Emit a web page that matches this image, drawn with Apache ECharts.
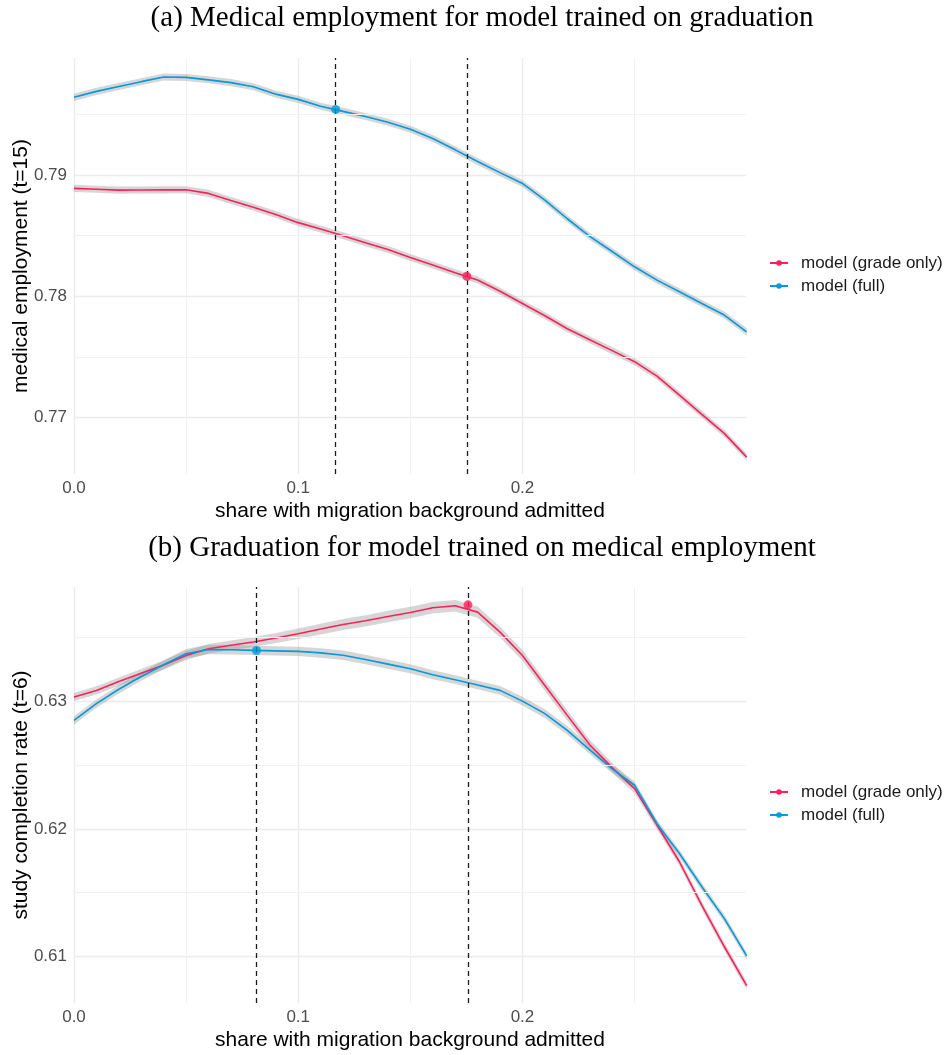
<!DOCTYPE html>
<html>
<head>
<meta charset="utf-8">
<script src="https://cdn.jsdelivr.net/npm/echarts@6/dist/echarts.min.js"></script>
<style>
  html, body { margin: 0; padding: 0; background: #ffffff; }
  #chart { width: 949px; height: 1055px; }
</style>
</head>
<body>
<div id="chart"></div>
<script>
// share with migration background admitted (x values of every curve)
const shares = [0.00, 0.01, 0.02, 0.03, 0.04, 0.05, 0.06, 0.07, 0.08, 0.09,
                0.10, 0.11, 0.12, 0.13, 0.14, 0.15, 0.16, 0.17, 0.18, 0.19,
                0.20, 0.21, 0.22, 0.23, 0.24, 0.25, 0.26, 0.27, 0.28, 0.29, 0.30];

// (a) medical employment (t=15)
const empGradeOnly = [0.78890, 0.78883, 0.78876, 0.78877, 0.78878, 0.78879, 0.78849, 0.78790, 0.78735, 0.78675,
                      0.78608, 0.78555, 0.78499, 0.78443, 0.78387, 0.78320, 0.78258, 0.78195, 0.78135, 0.78042,
                      0.77942, 0.77840, 0.77733, 0.77643, 0.77553, 0.77462, 0.77343, 0.77186, 0.77028, 0.76871, 0.76675];
const empFull      = [0.79641, 0.79690, 0.79730, 0.79770, 0.79808, 0.79805, 0.79785, 0.79762, 0.79728, 0.79667,
                      0.79624, 0.79567, 0.79525, 0.79483, 0.79435, 0.79377, 0.79302, 0.79208, 0.79112, 0.79020,
                      0.78931, 0.78794, 0.78640, 0.78495, 0.78370, 0.78244, 0.78134, 0.78038, 0.77942, 0.77846, 0.77708];
const empGradeOnlySe = [0.00030, 0.00029, 0.00029, 0.00029, 0.00029, 0.00029, 0.00029, 0.00029, 0.00029, 0.00029,
                        0.00029, 0.00029, 0.00029, 0.00029, 0.00029, 0.00029, 0.00029, 0.00029, 0.00029, 0.00029,
                        0.00029, 0.00029, 0.00029, 0.00029, 0.00029, 0.00029, 0.00029, 0.00029, 0.00029, 0.00029, 0.00030];
const empFullSe      = [0.00030, 0.00029, 0.00029, 0.00029, 0.00029, 0.00029, 0.00029, 0.00029, 0.00029, 0.00029,
                        0.00029, 0.00029, 0.00029, 0.00029, 0.00029, 0.00029, 0.00029, 0.00029, 0.00029, 0.00029,
                        0.00029, 0.00029, 0.00029, 0.00029, 0.00029, 0.00029, 0.00029, 0.00029, 0.00029, 0.00029, 0.00030];
const empOptFull      = [0.1167, 0.79541];   // [share, value]
const empOptGradeOnly = [0.1752, 0.78165];

// (b) study completion rate (t=6)
const gradGradeOnly = [0.63034, 0.63086, 0.63155, 0.63220, 0.63285, 0.63360, 0.63413, 0.63440, 0.63465, 0.63497,
                       0.63530, 0.63567, 0.63603, 0.63632, 0.63665, 0.63697, 0.63734, 0.63750, 0.63700, 0.63543,
                       0.63360, 0.63125, 0.62890, 0.62660, 0.62480, 0.62316, 0.62030, 0.61742, 0.61400, 0.61077, 0.60770];
const gradFull      = [0.62851, 0.62982, 0.63095, 0.63195, 0.63287, 0.63374, 0.63407, 0.63405, 0.63400, 0.63396,
                       0.63392, 0.63380, 0.63362, 0.63328, 0.63292, 0.63256, 0.63209, 0.63170, 0.63128, 0.63086,
                       0.63002, 0.62904, 0.62773, 0.62620, 0.62470, 0.62342, 0.62040, 0.61807, 0.61546, 0.61298, 0.61003];
const gradGradeOnlySe = [0.00032, 0.00032, 0.00033, 0.00034, 0.00035, 0.00036, 0.00037, 0.00038, 0.00039, 0.00040,
                         0.00041, 0.00042, 0.00043, 0.00044, 0.00045, 0.00045, 0.00045, 0.00045, 0.00044, 0.00043,
                         0.00042, 0.00041, 0.00040, 0.00039, 0.00038, 0.00036, 0.00033, 0.00032, 0.00032, 0.00032, 0.00032];
const gradFullSe      = [0.00032, 0.00032, 0.00033, 0.00034, 0.00035, 0.00036, 0.00037, 0.00037, 0.00037, 0.00037,
                         0.00037, 0.00037, 0.00037, 0.00037, 0.00036, 0.00036, 0.00035, 0.00034, 0.00034, 0.00034,
                         0.00034, 0.00034, 0.00034, 0.00033, 0.00032, 0.00031, 0.00030, 0.00030, 0.00030, 0.00030, 0.00030];
const gradOptFull      = [0.0814, 0.63399];
const gradOptGradeOnly = [0.1757, 0.63757];

// axis ranges and minor grid positions
const xRange = [0, 0.2997];
const empRange = [0.76536, 0.79965];
const gradRange = [0.60634, 0.63897];
const empMinorTicks = [0.775, 0.785, 0.795];
const gradMinorTicks = [0.615, 0.625, 0.635];

const labels = ['model (grade only)', 'model (full)'];
const titles = ['(a) Medical employment for model trained on graduation',
                '(b) Graduation for model trained on medical employment'];
const yNames = ['medical employment (t=15)', 'study completion rate (t=6)'];
const xName = 'share with migration background admitted';

const RED = '#FF1F5B';
const BLUE = '#009ADE';
const BAND = 'rgba(153,153,153,0.4)';
const SANS = '"Liberation Sans", Arial, sans-serif';
const SERIF = '"Liberation Serif", "DejaVu Serif", serif';

function pairs(xs, ys) { return xs.map((x, i) => [x, ys[i]]); }

// confidence ribbon: polygon through value +/- se, drawn in data coordinates
function ribbon(g, vals, se) {
  return {
    type: 'custom', xAxisIndex: g, yAxisIndex: g, silent: true, z: 2,
    data: [[shares[0], vals[0]]],
    renderItem: function (params, api) {
      const upper = shares.map((x, i) => api.coord([x, vals[i] + se[i]]));
      const lower = shares.map((x, i) => api.coord([x, vals[i] - se[i]])).reverse();
      return {
        type: 'polygon',
        shape: { points: upper.concat(lower) },
        style: { fill: BAND, stroke: null }
      };
    }
  };
}

// thin minor gridlines carried by an invisible series beneath everything
function minorGridCarrier(g, ticks) {
  return {
    type: 'line', xAxisIndex: g, yAxisIndex: g, silent: true, z: 0,
    data: [[shares[0], ticks[0]]],
    symbol: 'none', lineStyle: { opacity: 0 },
    markLine: {
      silent: true, symbol: 'none', label: { show: false }, precision: 6,
      lineStyle: { color: '#f1f1f1', type: 'solid', width: 1 },
      data: ticks.map(v => ({ yAxis: v }))
    }
  };
}

function curve(g, name, vals, color) {
  return {
    type: 'line', name: name, xAxisIndex: g, yAxisIndex: g,
    data: pairs(shares, vals),
    symbol: 'circle', symbolSize: 7, showSymbol: false,
    itemStyle: { color: color },
    lineStyle: { color: color, width: 1.6 },
    z: 4
  };
}

function optimum(g, pt, color) {
  return {
    type: 'scatter', name: 'optimum-' + g + color, xAxisIndex: g, yAxisIndex: g,
    data: [pt], symbol: 'circle', symbolSize: 9,
    itemStyle: { color: color }, z: 6, silent: true,
    markLine: {
      silent: true, symbol: 'none', label: { show: false }, precision: 6,
      lineStyle: { color: '#1a1a1a', type: [5, 4], width: 1.3 },
      data: [{ xAxis: pt[0] }]
    }
  };
}

function xAxisOpt(g) {
  return {
    type: 'value', gridIndex: g, min: xRange[0], max: xRange[1], interval: 0.1,
    name: xName, nameLocation: 'middle', nameGap: 27, nameMoveOverlap: false,
    nameTextStyle: { color: '#000', fontSize: 21, fontFamily: SANS },
    axisLine: { show: false }, axisTick: { show: false },
    axisLabel: { color: '#4d4d4d', fontSize: 17, fontFamily: SANS, margin: 6,
                 showMaxLabel: false, formatter: v => v.toFixed(1) },
    splitLine: { show: true, showMaxLine: false, lineStyle: { color: '#ebebeb', width: 1.4 } },
    minorTick: { show: false, splitNumber: 2 },
    minorSplitLine: { show: true, lineStyle: { color: '#f1f1f1', width: 1 } }
  };
}

function yAxisOpt(g, range, name) {
  return {
    type: 'value', gridIndex: g, min: range[0], max: range[1], splitNumber: 3,
    name: name, nameLocation: 'middle', nameGap: 42, nameMoveOverlap: false,
    nameTextStyle: { color: '#000', fontSize: 21, fontFamily: SANS },
    axisLine: { show: false }, axisTick: { show: false },
    axisLabel: { color: '#4d4d4d', fontSize: 17, fontFamily: SANS, margin: 7,
                 showMinLabel: false, showMaxLabel: false,
                 formatter: v => v.toFixed(2) },
    splitLine: { show: true, showMinLine: false, showMaxLine: false,
                 lineStyle: { color: '#ebebeb', width: 1.4 } }
  };
}

function legendOpt(top) {
  return {
    orient: 'vertical', left: 764, top: top, data: labels,
    itemWidth: 18, itemHeight: 7, itemGap: 5,
    textStyle: { color: '#1a1a1a', fontSize: 17, fontFamily: SANS, lineHeight: 18, padding: [0, 0, 0, 8] },
    selectedMode: false
  };
}

const chart = echarts.init(document.getElementById('chart'), null, { renderer: 'canvas' });

const series = [
  // panel (a)
  minorGridCarrier(0, empMinorTicks),
  ribbon(0, empGradeOnly, empGradeOnlySe),
  ribbon(0, empFull, empFullSe),
  curve(0, labels[0], empGradeOnly, RED),
  curve(0, labels[1], empFull, BLUE),
  optimum(0, empOptFull, BLUE),
  optimum(0, empOptGradeOnly, RED),
  // panel (b)
  minorGridCarrier(1, gradMinorTicks),
  ribbon(1, gradGradeOnly, gradGradeOnlySe),
  ribbon(1, gradFull, gradFullSe),
  curve(1, labels[0], gradGradeOnly, RED),
  curve(1, labels[1], gradFull, BLUE),
  optimum(1, gradOptFull, BLUE),
  optimum(1, gradOptGradeOnly, RED)
];

chart.setOption({
  animation: false,
  backgroundColor: '#ffffff',
  graphic: [
    { type: 'text', x: 482, y: 18, style: { text: titles[0], textAlign: 'center', textVerticalAlign: 'middle',
      fill: '#000', font: '29px ' + SERIF } },
    { type: 'text', x: 482, y: 548, style: { text: titles[1], textAlign: 'center', textVerticalAlign: 'middle',
      fill: '#000', font: '29px ' + SERIF } }
  ],
  grid: [
    { left: 74, top: 58, width: 672, height: 416, outerBoundsMode: 'none', containLabel: false },
    { left: 74, top: 587, width: 672, height: 416, outerBoundsMode: 'none', containLabel: false }
  ],
  xAxis: [xAxisOpt(0), xAxisOpt(1)],
  yAxis: [yAxisOpt(0, empRange, yNames[0]), yAxisOpt(1, gradRange, yNames[1])],
  legend: [legendOpt(249), legendOpt(778)],
  series: series
});
</script>
</body>
</html>
